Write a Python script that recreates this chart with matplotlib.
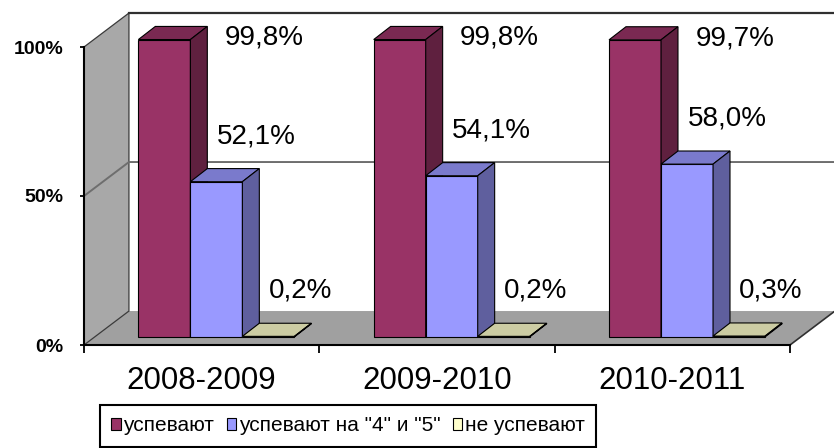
import matplotlib
matplotlib.use('Agg')
import matplotlib.pyplot as plt
from matplotlib.patches import Polygon
from matplotlib.colors import to_rgb
import numpy as np

# ---- data ----
years = ['2008-2009', '2009-2010', '2010-2011']
series = ['успевают', 'успевают на "4" и "5"', 'не успевают']
passing = [99.8, 99.8, 99.7]
good_marks = [52.1, 54.1, 58.0]
failing = [0.2, 0.2, 0.3]
y_ticks = [0, 50, 100]

colors = ['#993366', '#9999FF', '#FFFFCC']

plt.rcParams['font.family'] = ['Liberation Sans', 'DejaVu Sans']

W, H = 834, 448
fig = plt.figure(figsize=(W / 100, H / 100), dpi=100)
ax = fig.add_axes([84 / W, (H - 345) / H, 706 / W, 298 / H])
ax.set_xlim(0, 3)
ax.set_ylim(0, 100)
ax.patch.set_visible(False)

# pseudo-3D geometry (data units)
DX, DY = 0.191, 11.4      # depth of the chart box
SX, SY = 0.0425, 2.7      # set-back of bars from the front plane
BX, BY = 0.072, 4.4       # depth of each bar
BW = 0.221                # bar width
GC = 0.52                 # group centre within a category

wall_edge = '#3a3a3a'
ax.add_patch(Polygon([(DX, DY), (3 + DX, DY), (3 + DX, 100 + DY), (DX, 100 + DY)],
                     closed=True, fc='white', ec='none', clip_on=False, zorder=0.5))
ax.add_patch(Polygon([(0, 0), (3, 0), (3 + DX, DY), (DX, DY)],
                     closed=True, fc='#A0A0A0', ec='none', clip_on=False, zorder=1))
ax.add_patch(Polygon([(0, 0), (0, 100), (DX, 100 + DY), (DX, DY)],
                     closed=True, fc='#A8A8A8', ec=wall_edge, lw=0.9, clip_on=False, zorder=1.1))
ax.plot([DX, 3 + DX], [100 + DY, 100 + DY], color='#303030', lw=1.6, clip_on=False, zorder=1.2)
ax.plot([3, 3 + DX], [0, DY], color='#303030', lw=1.2, clip_on=False, zorder=1.2)
ax.plot([0, DX, 3 + DX], [50, 50 + DY, 50 + DY], color='#6e6e6e', lw=1.4, clip_on=False, zorder=1.2)


def shade(c, f):
    r, g, b = to_rgb(c)
    return (r * f, g * f, b * f)


values = [passing, good_marks, failing]
label_off = [(0.425, 0.6), (0.17, 15.3), (0.136, 15.4)]
cats = np.arange(len(years))
containers = []
for j, (vals, col) in enumerate(zip(values, colors)):
    x = cats + GC + (j - 1) * BW + SX
    bc = ax.bar(x, vals, width=BW, bottom=SY, color=col, edgecolor='black',
                linewidth=0.8, zorder=3 + j, label=series[j])
    containers.append(bc)
    for rect, v in zip(bc.patches, vals):
        rect.set_clip_on(False)
        x0 = rect.get_x()
        x1 = x0 + rect.get_width()
        y0 = rect.get_y()
        y1 = y0 + rect.get_height()
        top = [(x0, y1), (x1, y1), (x1 + BX, y1 + BY), (x0 + BX, y1 + BY)]
        side = [(x1, y0), (x1, y1), (x1 + BX, y1 + BY), (x1 + BX, y0 + BY)]
        ax.add_patch(Polygon(top, closed=True, fc=shade(col, 0.8), ec='black',
                             lw=0.8, zorder=3 + j, clip_on=False))
        ax.add_patch(Polygon(side, closed=True, fc=shade(col, 0.62), ec='black',
                             lw=0.8, zorder=3 + j, clip_on=False))
        dx, dy = label_off[j]
        ax.text(x0 + rect.get_width() / 2 + dx, y1 + dy,
                f"{v:.1f}%".replace('.', ','), fontsize=20, ha='center',
                va='center', zorder=10, clip_on=False)

for s in ['top', 'right']:
    ax.spines[s].set_visible(False)
ax.spines['left'].set_linewidth(1.5)
ax.spines['bottom'].set_linewidth(1.5)
ax.spines['left'].set_zorder(2.5)
ax.spines['bottom'].set_zorder(2.5)

ax.set_yticks(y_ticks)
ax.set_yticklabels([f"{t}%" for t in y_ticks], fontsize=14, fontweight='bold')
ax.tick_params(axis='y', length=3, width=1.3, pad=12)

ax.set_xticks([0, 1, 2, 3])
ax.set_xticklabels([''] * 4)
ax.set_xticks(cats + 0.5, minor=True)
ax.set_xticklabels(years, minor=True, fontsize=22.5)
ax.tick_params(axis='x', which='major', length=6, width=1.3, direction='out')
ax.tick_params(axis='x', which='minor', length=0, pad=15)

leg = fig.legend(handles=containers, labels=series, loc='upper left',
                 bbox_to_anchor=(100 / W, (H - 405) / H), bbox_transform=fig.transFigure,
                 ncol=3, fontsize=15, frameon=True, fancybox=False, shadow=False,
                 borderaxespad=0, borderpad=0.55, columnspacing=0.6,
                 handletextpad=0.12, handlelength=0.45, handleheight=0.45)
leg.get_frame().set_edgecolor('black')
leg.get_frame().set_linewidth(1.5)
leg.get_frame().set_alpha(1)

fig.savefig('out.png', dpi=100)
